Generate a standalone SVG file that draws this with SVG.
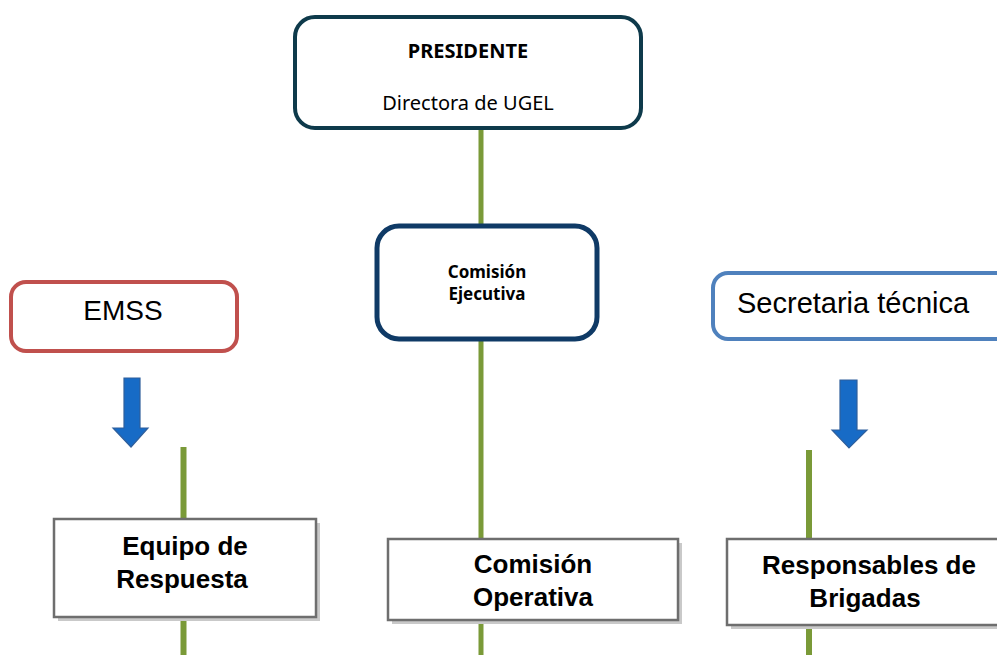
<svg xmlns="http://www.w3.org/2000/svg" width="997" height="655" viewBox="0 0 997 655">
<style>
.conn{stroke:#7a9a38;stroke-width:6;fill:none}
.cal{font-family:"Noto Sans","Open Sans",sans-serif;fill:#000}
.ari{font-family:"Liberation Sans",Arial,sans-serif;fill:#000}
.b{font-weight:bold}
.box{fill:#fff;stroke:#6e6e6e;stroke-width:2.5}
.shadow{fill:#c9c9c9}
.arrow{fill:#176bc6;stroke:#2f5f9c;stroke-width:1.2}
</style>
<rect width="997" height="655" fill="#fff"/>
<g id="connectors">
<line class="conn" x1="481" y1="128" x2="481" y2="655" style="stroke-width:5"/>
<line class="conn" x1="183.5" y1="447" x2="183.5" y2="655"/>
<line class="conn" x1="809" y1="450" x2="809" y2="655"/>
<polygon class="arrow" points="124,378 140,378 140,428 148,428 131,447 113,428 124,428"/>
<polygon class="arrow" points="840,380 857,380 857,430 867,430 849,448 832,430 840,430"/>
</g>
<g id="presidente">
<rect x="295" y="17" width="346" height="111" rx="20" fill="#fff" stroke="#0e3a4b" stroke-width="4"/>
<text class="cal b" x="468" y="58" font-size="20" text-anchor="middle">PRESIDENTE</text>
<text class="cal" x="468" y="110" font-size="20" text-anchor="middle">Directora de UGEL</text>
</g>
<g id="comision-ejecutiva">
<rect x="377" y="226" width="220" height="113" rx="22" fill="#fff" stroke="#0f3a66" stroke-width="5"/>
<text class="cal b" x="487" y="278" font-size="17" text-anchor="middle">Comisión</text>
<text class="cal b" x="487" y="300" font-size="17" text-anchor="middle">Ejecutiva</text>
</g>
<g id="emss">
<rect x="11" y="282" width="226" height="69" rx="15" fill="#fff" stroke="#c0504d" stroke-width="4"/>
<text class="ari" x="123" y="320" font-size="28" text-anchor="middle">EMSS</text>
</g>
<g id="secretaria">
<rect x="713" y="273" width="300" height="66" rx="15" fill="#fff" stroke="#4f81bd" stroke-width="4"/>
<text class="ari" x="737" y="313" font-size="29">Secretaria técnica</text>
</g>
<g id="equipo">
<rect class="shadow" x="58" y="523" width="262" height="98"/>
<rect class="box" x="54" y="519" width="262" height="98"/>
<text class="ari b" x="185" y="555" font-size="26" text-anchor="middle">Equipo de</text>
<text class="ari b" x="182" y="588" font-size="26" text-anchor="middle">Respuesta</text>
</g>
<g id="comision-operativa">
<rect class="shadow" x="392" y="543" width="290" height="81"/>
<rect class="box" x="388" y="539" width="290" height="81"/>
<text class="ari b" x="533" y="573" font-size="26" text-anchor="middle">Comisión</text>
<text class="ari b" x="533" y="606" font-size="26" text-anchor="middle">Operativa</text>
</g>
<g id="responsables">
<rect class="shadow" x="731" y="543" width="290" height="86"/>
<rect class="box" x="727" y="539" width="290" height="86"/>
<text class="ari b" x="869" y="574" font-size="26" text-anchor="middle">Responsables de</text>
<text class="ari b" x="865" y="607" font-size="26" text-anchor="middle">Brigadas</text>
</g>
</svg>
